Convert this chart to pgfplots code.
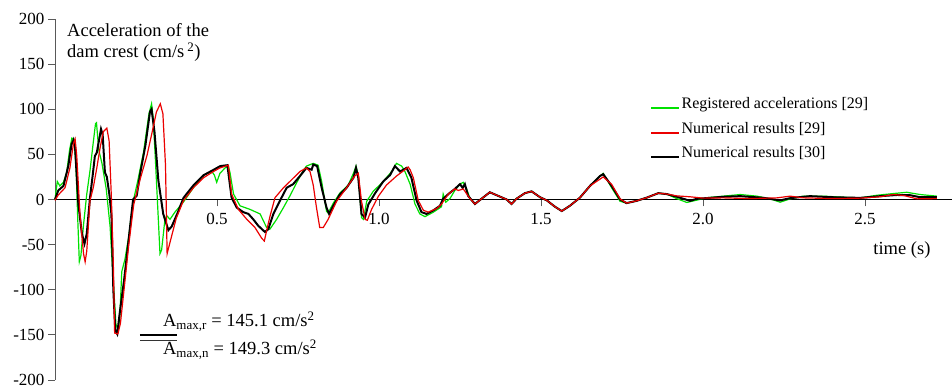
\documentclass[border=0pt]{standalone}
\usepackage{fontspec}
\setmainfont{Liberation Serif}
\usepackage{pgfplots}
\pgfplotsset{compat=1.18}
\definecolor{regg}{RGB}{0,225,0}
\definecolor{numr}{RGB}{235,0,0}
\begin{document}
\begin{tikzpicture}
\begin{axis}[
  x=324bp, y=0.9025bp,
  xmin=0, xmax=2.77, ymin=-200, ymax=200,
  axis y line=left, axis x line=middle,
  axis line style={-},
  y axis line style={black!65, line width=0.8bp},
  x axis line style={black, line width=0.6bp},
  clip=false,
  tick align=outside,
  major tick length=7bp,
  xtick={0,0.5,1,1.5,2,2.5},
  xticklabels={0.0,0.5,1.0,1.5,2.0,2.5},
  ytick={-200,-150,-100,-50,0,50,100,150,200},
  yticklabels={-200,-150,-100,-50,0,50,100,150,200},
  tick style={black!65, line width=0.8bp},
  ticklabel style={font=\fontsize{17bp}{20bp}\selectfont},
  xticklabel style={yshift=-3bp},
  yticklabel style={inner ysep=0pt},
  legend style={at={(axis cs:1.836,114.7)}, anchor=north west, draw=none, fill=none,
    font=\fontsize{16bp}{19bp}\selectfont, row sep=9bp, inner sep=0pt,
    nodes={inner sep=1.5bp, anchor=base west}},
  legend cell align=left,
  legend image code/.code={\draw[#1] (0bp,0.6bp) -- (28bp,0.6bp);},
]
\addplot[regg, line width=1.2bp, forget plot] table {
0 0
0.007 20
0.015 15
0.026 19
0.036 30
0.045 55
0.052 68
0.059 66
0.065 35
0.070 -20
0.075 -69
0.080 -62
0.088 -28
0.098 6
0.108 32
0.117 60
0.125 84
0.128 85
0.135 55
0.145 40
0.158 12
0.170 -30
0.178 -80
0.188 -138
0.195 -145
0.200 -130
0.206 -80
0.216 -66
0.228 -40
0.236 -16
0.242 -1
0.255 20
0.273 52
0.290 95
0.298 106
0.303 90
0.309 50
0.319 -23
0.324 -60
0.329 -56
0.339 -23
0.345 -18
0.355 -22
0.370 -14
0.396 -3
0.427 13
0.458 27
0.484 31
0.492 27
0.499 19
0.509 29
0.525 35
0.535 37
0.540 30
0.551 6
0.571 -7
0.602 -11
0.633 -16
0.653 -31
0.663 -33
0.684 -22
0.705 -9
0.725 4
0.745 18
0.766 32
0.776 37
0.797 40
0.812 38
0.823 20
0.838 -13
0.843 -15
0.859 -4
0.879 7
0.905 16
0.921 29
0.929 37
0.936 27
0.946 -20
0.952 -22
0.962 -2
0.982 9
1.013 20
1.039 31
1.054 40
1.070 37
1.080 31
1.096 17
1.111 -5
1.126 -16
1.142 -19
1.168 -14
1.193 -8
1.198 6
1.206 -3
1.219 1
1.234 10
1.250 17
1.260 19
1.270 12
1.281 1
1.296 -5
1.316 1
1.342 8
1.368 4
1.394 0
1.409 -5
1.424 1
1.450 7
1.471 9
1.497 2.5
1.518 -1
1.543 -8
1.564 -12.8
1.589 -7
1.620 2
1.651 15
1.682 26
1.692 29
1.718 13
1.744 -2
1.764 -4
1.795 -1.5
1.826 2
1.862 7
1.888 6
1.919 1
1.950 -3.3
1.981 -0.7
2.012 2
2.063 3.7
2.115 5.5
2.166 3.7
2.207 0.7
2.238 -3
2.269 0.7
2.310 3.7
2.372 3.7
2.433 2.5
2.485 1.8
2.537 4.7
2.588 6.6
2.629 8
2.670 5.5
2.722 3.7
};
\addplot[black, line width=2bp, forget plot] table {
0 0
0.010 10
0.026 15
0.041 37
0.051 61
0.057 66
0.062 57
0.072 -5
0.083 -38
0.091 -49
0.098 -38
0.108 2
0.116 26
0.123 48
0.129 52
0.137 68
0.142 78
0.147 72
0.154 30
0.160 25
0.168 5
0.174 -16
0.180 -100
0.186 -145
0.192 -149
0.200 -125
0.213 -90
0.228 -42
0.241 0
0.252 4
0.264 31
0.279 60
0.293 97
0.298 100
0.307 75
0.319 21
0.334 -16
0.350 -34
0.360 -30
0.377 -16
0.397 2
0.428 16
0.459 27
0.490 33
0.510 37
0.532 38
0.545 2
0.561 -9
0.581 -14
0.597 -16
0.612 -22
0.627 -29
0.648 -36
0.658 -33
0.674 -16
0.694 -1.5
0.715 13
0.735 17
0.756 26
0.776 35
0.792 33
0.797 38.7
0.809 37
0.823 13
0.838 -9
0.846 -16
0.859 -7
0.879 5.5
0.900 13
0.921 24
0.929 35
0.936 24
0.946 -16
0.957 -20
0.967 -5.5
0.988 7
1.013 20
1.034 27
1.049 37
1.065 31
1.085 35
1.100 24
1.116 -1
1.131 -14
1.147 -16
1.168 -12
1.188 -7
1.198 0.7
1.214 6
1.234 11.7
1.250 17
1.258 13
1.265 17
1.275 4
1.296 -5
1.316 0.7
1.342 8
1.368 4
1.394 0
1.409 -5
1.424 0.7
1.450 7
1.471 9
1.497 2.5
1.518 -1
1.543 -8
1.564 -12.8
1.589 -7
1.620 2
1.651 15
1.682 26
1.692 28
1.718 15
1.744 0
1.764 -4
1.795 -1.5
1.826 2
1.862 7
1.888 6
1.919 3
1.940 0.7
1.960 -1.5
1.980 0.7
2.010 1.5
2.063 3
2.115 3.7
2.187 1.8
2.238 -1
2.269 1.5
2.330 3.7
2.400 2.5
2.485 1.8
2.547 3.7
2.599 5
2.640 4.7
2.670 2.5
2.722 2.5
};
\addplot[numr, line width=1.2bp, forget plot] table {
0 -1
0.010 5
0.031 13
0.046 35
0.057 62
0.062 67
0.067 49
0.077 -16
0.088 -60
0.093 -69
0.098 -57
0.108 -1
0.118 13
0.129 35
0.139 57
0.149 75
0.160 79
0.167 65
0.174 2
0.180 -71
0.184 -148
0.194 -149
0.202 -137
0.213 -100
0.228 -49
0.243 -5.5
0.264 24
0.284 49
0.300 75
0.313 97
0.325 106
0.333 95
0.341 38
0.346 -60
0.356 -46
0.374 -21
0.396 -1.5
0.427 13
0.458 24
0.489 31
0.509 35
0.535 38
0.545 6
0.566 -11
0.592 -22
0.617 -31
0.638 -43
0.646 -46
0.658 -27
0.664 -18
0.679 2
0.705 13
0.725 20
0.756 31
0.776 35
0.787 31
0.797 16
0.807 -9
0.817 -31
0.828 -31
0.843 -22
0.869 -2
0.900 13
0.925 26
0.936 29
0.946 -2
0.957 -22
0.964 -23
0.977 -11
0.998 3.6
1.023 16
1.054 26
1.080 33
1.090 36
1.096 33
1.106 24
1.121 -1
1.137 -12
1.152 -14
1.178 -10
1.193 -5
1.214 6
1.234 11.7
1.245 10
1.260 11.7
1.281 1
1.296 -5
1.316 0.7
1.342 8
1.368 4
1.394 0
1.409 -5
1.424 0.7
1.450 7
1.471 9
1.497 2.5
1.518 -1
1.543 -8
1.564 -12.8
1.589 -7
1.620 2
1.651 15
1.692 25
1.718 16.8
1.744 0.7
1.764 -4
1.795 -1.5
1.826 2
1.862 7
1.888 6
1.919 4
1.960 3
2.000 1.5
2.063 1.8
2.145 1
2.228 1.8
2.269 3.7
2.310 1.8
2.400 1
2.485 1.5
2.547 3
2.588 5.5
2.620 4.4
2.660 0.7
2.722 1
};
\addlegendimage{color=regg, line width=1.5bp}
\addlegendentry{Registered accelerations [29]}
\addlegendimage{color=numr, line width=1.5bp}
\addlegendentry{Numerical results [29]}
\addlegendimage{color=black, line width=2bp}
\addlegendentry{Numerical results [30]}
\node[anchor=north west, align=left, inner sep=0pt, font=\fontsize{18.5bp}{21bp}\selectfont]
  at (axis cs:0.037,195) {Acceleration of the\\dam crest (cm/s\,\textsuperscript{2})};
\node[font=\fontsize{18.5bp}{22bp}\selectfont] at (axis cs:2.614,-56) {time (s)};
\node[anchor=base west, inner sep=0pt, font=\fontsize{18.5bp}{22bp}\selectfont]
  at (axis cs:0.333,-141) {A\textsubscript{max,r} = 145.1 cm/s\textsuperscript{2}};
\node[anchor=base west, inner sep=0pt, font=\fontsize{18.5bp}{22bp}\selectfont]
  at (axis cs:0.333,-172.3) {A\textsubscript{max,n} = 149.3 cm/s\textsuperscript{2}};
\draw[black, line width=1.2bp] (axis cs:0.262,-150.1) -- (axis cs:0.377,-150.1);
\draw[black!80, line width=0.8bp] (axis cs:0.262,-155.7) -- (axis cs:0.377,-155.7);
\coordinate (BBa) at (axis cs:-0.1698,221.05);
\coordinate (BBb) at (axis cs:2.7685,-211.1);
\end{axis}
\pgfresetboundingbox
\path (BBa) rectangle (BBb);
\end{tikzpicture}
\end{document}
